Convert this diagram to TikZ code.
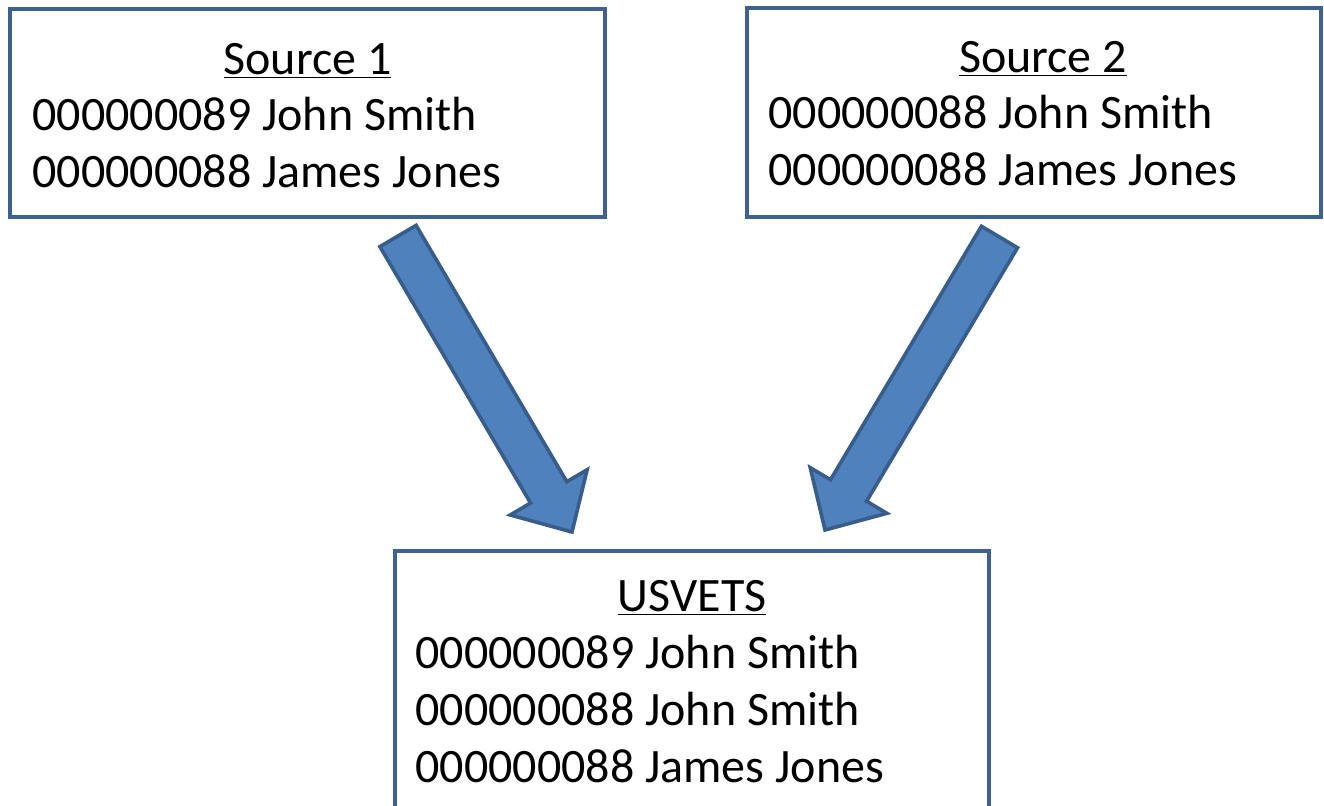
\documentclass[tikz,border=0pt]{standalone}
\usepackage{fontspec}
\setmainfont{Carlito}
\usetikzlibrary{calc,fit}
\definecolor{boxblue}{HTML}{3D6292}
\definecolor{arrowfill}{HTML}{4F81BD}
\definecolor{arrowline}{HTML}{385D8A}
\begin{document}
\begin{tikzpicture}[
    x=0.5pt, y=-0.5pt,
    box/.style={draw=boxblue, fill=white, line width=2pt, inner sep=0pt},
    txt/.style={font=\fontsize{24}{29.3}\selectfont, inner sep=0pt},
    barrow/.style={draw=arrowline, fill=arrowfill, line width=1.8pt, line join=miter}
]
  \useasboundingbox (0,0) rectangle (1324,805);

  % boxes
  \node[box, fit={(10,9) (605,217)}]    (src1) {};
  \node[box, fit={(747,8) (1321,217)}]  (src2) {};
  \node[box, fit={(395,551) (989,840)}] (usv)  {};

  % texts
  \node[txt, anchor=base]      (src1t) at (307.5,74) {\underline{Source 1}};
  \node[txt, anchor=base west] (src1a) at (32,130)   {000000089 John Smith};
  \node[txt, anchor=base west] (src1b) at (32,187)   {000000088 James Jones};

  \node[txt, anchor=base]      (src2t) at (1043,72)  {\underline{Source 2}};
  \node[txt, anchor=base west] (src2a) at (768,128)  {000000088 John Smith};
  \node[txt, anchor=base west] (src2b) at (768,185)  {000000088 James Jones};

  \node[txt, anchor=base]      (usvt)  at (692,611)  {\underline{USVETS}};
  \node[txt, anchor=base west] (usva)  at (415,668)  {000000089 John Smith};
  \node[txt, anchor=base west] (usvb)  at (415,725)  {000000088 John Smith};
  \node[txt, anchor=base west] (usvc)  at (415,782)  {000000088 James Jones};

  % arrows
  \coordinate (a1s) at (398,236);
  \coordinate (a1e) at (572,532);
  \coordinate (a2s) at (999.5,237);
  \coordinate (a2e) at (825,530);

  \foreach \s/\e in {a1s/a1e, a2s/a2e} {
    \coordinate (\s h) at ($(\e)!23pt!(\s)$);
    \draw[barrow] ($(\s)!10.5pt!90:(\e)$) -- ($(\s h)!10.5pt!-90:(\s)$)
      -- ($(\s h)!22.3pt!-90:(\s)$) -- (\e) -- ($(\s h)!22.3pt!90:(\s)$)
      -- ($(\s h)!10.5pt!90:(\s)$) -- ($(\s)!10.5pt!-90:(\e)$) -- cycle;
  }
\end{tikzpicture}
\end{document}
